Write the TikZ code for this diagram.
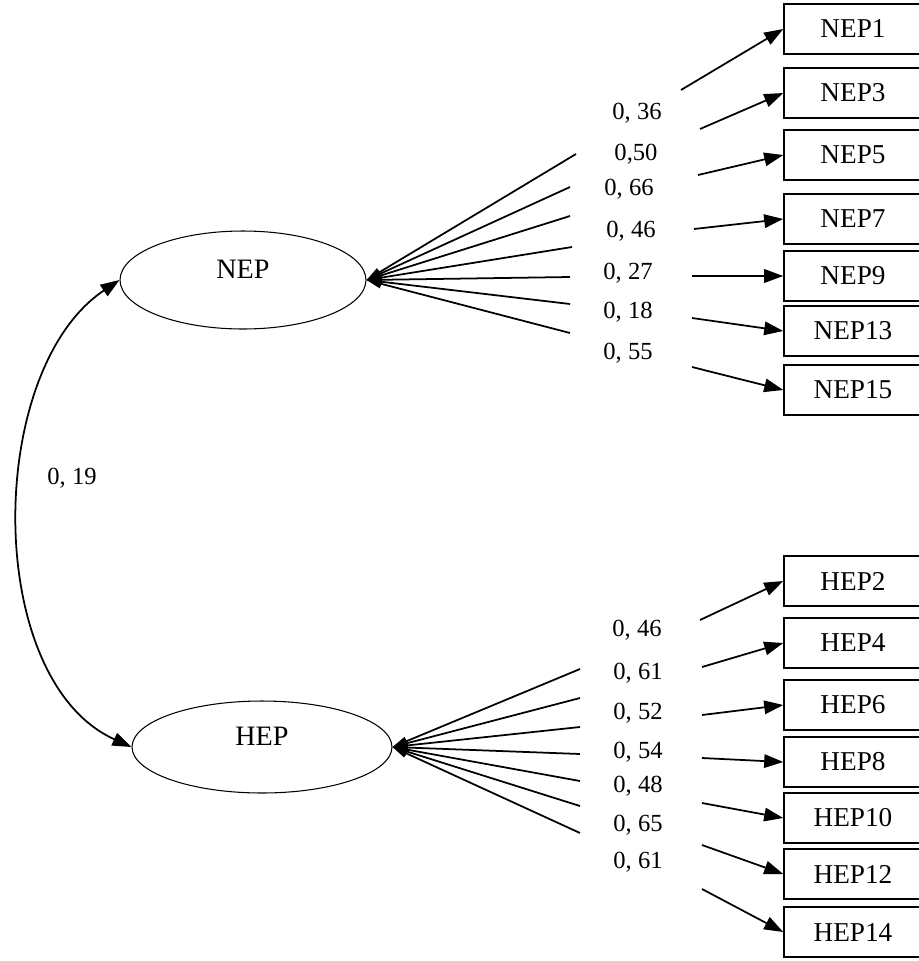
\documentclass[tikz,border=0pt]{standalone}
\usepackage{fontspec}
\setmainfont{Liberation Serif}
\usetikzlibrary{positioning, shapes.geometric, arrows.meta}

\begin{document}
\begin{tikzpicture}[x=0.02cm, y=-0.02cm,
    >={Triangle[length=0.38cm, width=0.27cm]},
    latent/.style={ellipse, draw, line width=0.6pt, inner sep=0pt,
      text height=0.35cm, text depth=0.4cm, font=\fontsize{16}{18}\selectfont},
    item/.style={rectangle, draw, line width=0.9pt, minimum width=2.76cm,
      minimum height=1cm, inner sep=0pt, font=\fontsize{15.5}{18}\selectfont},
    load/.style={inner sep=0pt, font=\fontsize{14}{16}\selectfont},
    arr/.style={->, line width=1pt},
    fan/.style={line width=1pt, -{Triangle[length=0.3cm, width=0.18cm]}}]
        \useasboundingbox (0,0) rectangle (919,961);
        \node[latent, minimum width=4.92cm, minimum height=1.96cm] (NEP) at (243,280) {NEP};
        \node[latent, minimum width=5.2cm, minimum height=1.84cm] (HEP) at (262,747) {HEP};
        % NEP items
        \foreach \nm/\by/\lab/\lx/\ly/\fx/\fy/\sx/\sy in {
            NEP1/29/{0, 36}/637/113/576/154/681/90,
            NEP3/93/{0,50}/636/154/570/187/700/129,
            NEP5/155/{0, 66}/629/189/570/216/698/175,
            NEP7/219/{0, 46}/631/231/572/247/694/229,
            NEP9/276/{0, 27}/628/273/570/277/692/276,
            NEP13/331/{0, 18}/628/312/570/304/692/318,
            NEP15/390/{0, 55}/628/353/570/333/692/367}{
            \node[item] (\nm) at (853,\by) {\nm};
            \node[load] (l\nm) at (\lx,\ly) {\lab};
            \coordinate (f\nm) at (\fx,\fy);
            \coordinate (s\nm) at (\sx,\sy);
            \draw[fan] (f\nm) -- (NEP.east);
            \draw[arr] (s\nm) -- (\nm.west);
        }
        % HEP items
        \foreach \nm/\by/\lab/\lx/\ly/\fx/\fy/\sx/\sy in {
            HEP2/581/{0, 46}/637/630/580/669/700/620,
            HEP4/643/{0, 61}/638/673/580/698/702/667,
            HEP6/705/{0, 52}/638/713/580/727/702/715,
            HEP8/762/{0, 54}/638/752/580/754/702/758,
            HEP10/818/{0, 48}/638/786/580/781/702/803,
            HEP12/874/{0, 65}/638/825/580/806/702/845,
            HEP14/932/{0, 61}/638/862/580/833/702/889}{
            \node[item] (\nm) at (853,\by) {\nm};
            \node[load] (l\nm) at (\lx,\ly) {\lab};
            \coordinate (f\nm) at (\fx,\fy);
            \coordinate (s\nm) at (\sx,\sy);
            \draw[fan] (f\nm) -- (HEP.east);
            \draw[arr] (s\nm) -- (\nm.west);
        }
        \draw[<->, line width=1pt] (NEP.west) .. controls (-15,370) and (-17,680) .. (HEP.west);
        \node[load] (r) at (72,478) {0, 19};
    \end{tikzpicture}
\end{document}
